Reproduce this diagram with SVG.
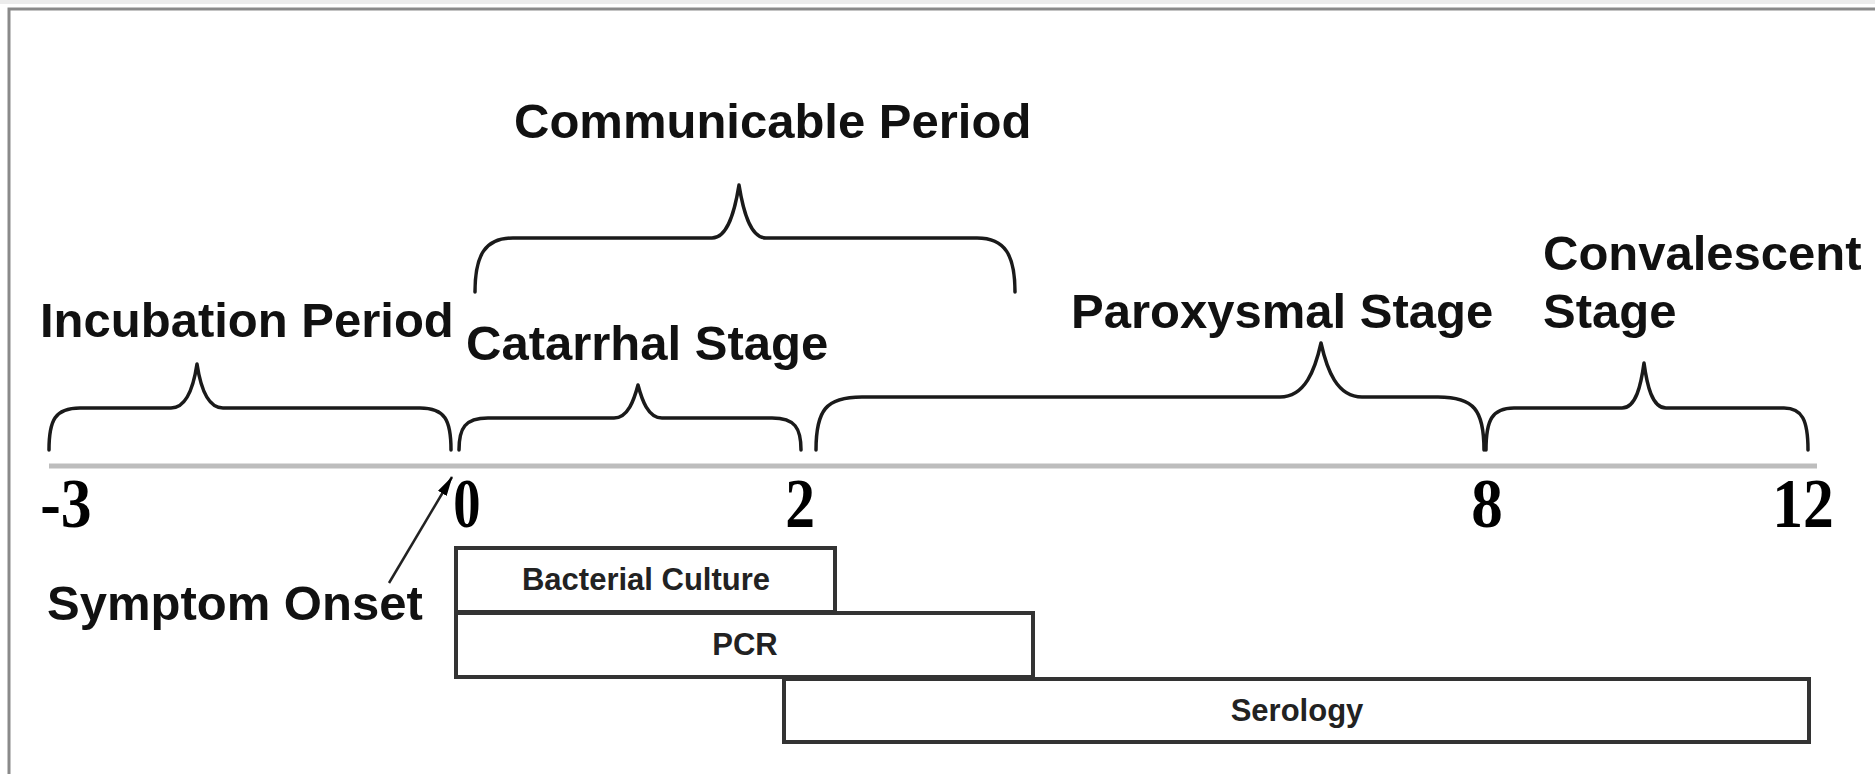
<svg xmlns="http://www.w3.org/2000/svg" width="1875" height="774" viewBox="0 0 1875 774">
<defs>
<style>
.lbl{font-family:"Liberation Sans",Arial,sans-serif;font-weight:bold;font-size:49px;fill:#111}
.num{font-family:"Liberation Serif","Times New Roman",serif;font-weight:bold;font-size:70px;fill:#000;text-anchor:middle}
.brace{fill:none;stroke:#1a1a1a;stroke-width:3.5;stroke-linecap:round;stroke-linejoin:round}
.box{fill:#fff;stroke:#333;stroke-width:4}
.boxt{font-family:"Liberation Sans",Arial,sans-serif;font-weight:bold;font-size:31px;fill:#222;text-anchor:middle}
</style>
<marker id="ah" viewBox="0 0 20 10" refX="19" refY="5" markerWidth="20" markerHeight="10" markerUnits="userSpaceOnUse" orient="auto">
<path d="M0,0 L20,5 L0,10 Z" fill="#000"/>
</marker>
</defs>
<rect x="0" y="0" width="1875" height="774" fill="#fff"/>
<rect x="0" y="0" width="1875" height="4" fill="#ececec"/>
<path d="M9,780 L9,9 L1880,9" fill="none" stroke="#8a8a8a" stroke-width="3"/>

<g id="axis">
<line x1="49" y1="466" x2="1817" y2="466" stroke="#bdbdbd" stroke-width="5"/>
<text class="num" transform="translate(66,527) scale(0.88,1)">-3</text>
<text class="num" transform="translate(467,527) scale(0.78,1)">0</text>
<text class="num" transform="translate(800,527) scale(0.85,1)">2</text>
<text class="num" transform="translate(1487,527) scale(0.9,1)">8</text>
<text class="num" transform="translate(1803,527) scale(0.88,1)">12</text>
</g>

<g id="communicable-period">
<path class="brace" d="M475,292 C475,255 485,238 513,238 L712,238 C728,238 735,210 739,185 C743,210 750,238 766,238 L977,238 C1005,238 1015,255 1015,292"/>
<text class="lbl" x="514" y="138">Communicable Period</text>
</g>

<g id="incubation-period">
<path class="brace" d="M49,450 C49,420 55,408 80,408 L171,408 C187,408 194,384 197,364 C200,384 207,408 223,408 L420,408 C445,408 451,420 451,450"/>
<text class="lbl" x="40" y="337">Incubation Period</text>
</g>

<g id="catarrhal-stage">
<path class="brace" d="M459,450 C459,428 465,418 488,418 L614,418 C628,418 634,400 638,385 C642,400 648,418 662,418 L772,418 C795,418 801,428 801,450"/>
<text class="lbl" x="466" y="360">Catarrhal Stage</text>
</g>

<g id="paroxysmal-stage">
<path class="brace" d="M816,450 C816,410 826,397 862,397 L1280,397 C1305,397 1315,370 1321,343 C1327,370 1337,397 1362,397 L1438,397 C1474,397 1484,410 1484,450"/>
<text class="lbl" x="1071" y="328">Paroxysmal Stage</text>
</g>

<g id="convalescent-stage">
<path class="brace" d="M1486,450 C1486,420 1492,408 1514,408 L1622,408 C1636,408 1641,385 1644,363 C1647,385 1652,408 1666,408 L1784,408 C1802,408 1808,420 1808,450"/>
<text class="lbl" x="1543" y="270">Convalescent</text>
<text class="lbl" x="1543" y="328">Stage</text>
</g>

<g id="symptom-onset">
<text class="lbl" x="47" y="620" font-size="48">Symptom Onset</text>
</g>

<g id="bacterial-culture">
<rect class="box" x="456" y="548" width="379" height="64"/>
<text class="boxt" x="646" y="590">Bacterial Culture</text>
</g>

<g id="pcr">
<rect class="box" x="456" y="613" width="577" height="64"/>
<text class="boxt" x="745" y="655">PCR</text>
</g>

<g id="serology">
<rect class="box" x="784" y="679" width="1025" height="63"/>
<text class="boxt" x="1297" y="721">Serology</text>
</g>

<g id="connectors">
<line x1="389" y1="583" x2="452" y2="477" stroke="#222" stroke-width="2.5" marker-end="url(#ah)"/>
</g>
</svg>
